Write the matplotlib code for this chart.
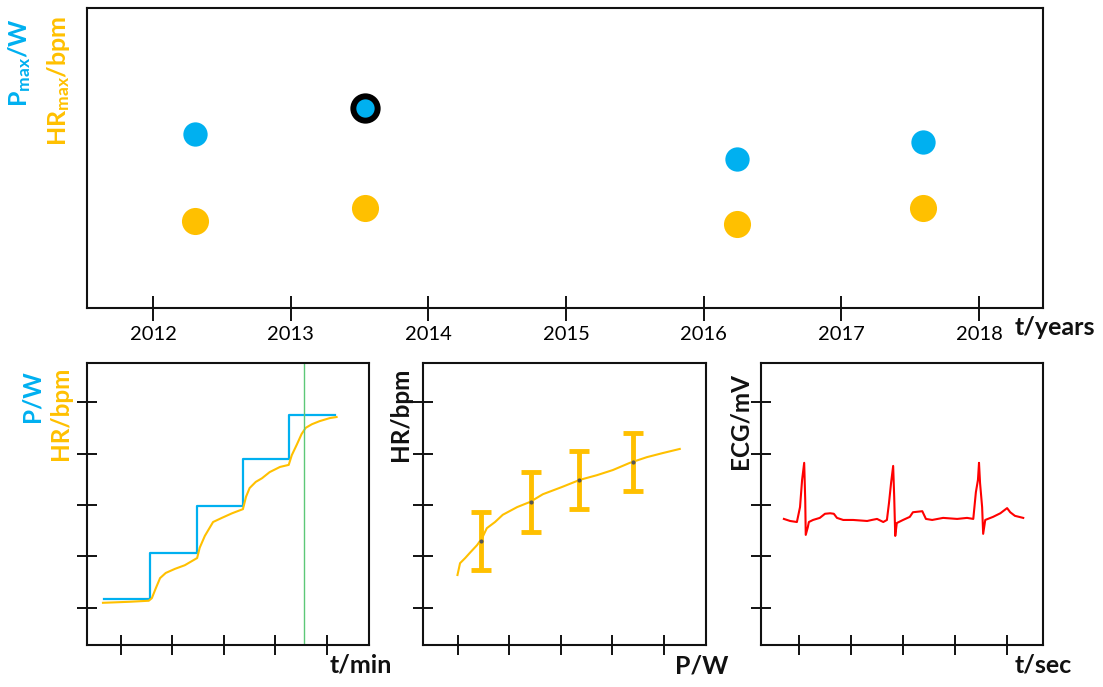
import matplotlib
matplotlib.use("Agg")
import matplotlib.pyplot as plt

plt.rcParams['font.family'] = ['Lato', 'DejaVu Sans']
plt.rcParams['mathtext.fontset'] = 'custom'
plt.rcParams['mathtext.bf'] = 'Lato:bold'
plt.rcParams['mathtext.rm'] = 'Lato'

BLUE = '#00B0F0'
ORANGE = '#FFC000'
RED = '#FF0000'
GREEN = '#5CC878'

# ---- top panel data ----
test_years = [2012.305, 2013.54, 2016.245, 2017.59]
pmax = [58.0, 66.7, 49.7, 55.3]
hrmax = [29.0, 33.3, 28.0, 33.3]
highlight_index = 1
year_ticks = [2012, 2013, 2014, 2015, 2016, 2017, 2018]

# ---- bottom-left: step test ----
step_t = [0.67, 1.56, 2.48, 3.37, 4.26, 5.16]
step_p = [1.17, 2.07, 2.98, 3.89, 4.75, 4.75]
hr_t = [0.65, 1.17, 1.54, 1.60, 1.68, 1.76, 1.87, 2.05, 2.24, 2.48, 2.53, 2.63,
        2.79, 2.96, 3.16, 3.37, 3.43, 3.50, 3.62, 3.74, 3.89, 4.09, 4.26, 4.32,
        4.42, 4.51, 4.59, 4.71, 4.86, 5.06, 5.19]
hr_v = [1.10, 1.12, 1.14, 1.19, 1.39, 1.58, 1.68, 1.76, 1.83, 1.97, 2.17, 2.40,
        2.67, 2.75, 2.84, 2.92, 3.16, 3.33, 3.45, 3.52, 3.64, 3.74, 3.78, 3.97,
        4.18, 4.38, 4.50, 4.57, 4.63, 4.69, 4.71]
marker_t = 4.55

# ---- bottom-middle: HR vs P ----
hp_p = [0.99, 1.04, 1.14, 1.23, 1.37, 1.47, 1.56, 1.72, 1.87, 2.15, 2.40, 2.65,
        3.02, 3.37, 3.70, 4.01, 4.34, 4.67, 4.98, 5.31]
hp_hr = [1.64, 1.87, 1.97, 2.07, 2.22, 2.36, 2.55, 2.67, 2.81, 2.96, 3.06, 3.21,
         3.35, 3.49, 3.58, 3.68, 3.82, 3.93, 4.01, 4.09]
eb_p = [1.45, 2.42, 3.35, 4.40]
eb_hr = [2.30, 3.06, 3.49, 3.83]
eb_err = [0.56, 0.58, 0.56, 0.56]

# ---- bottom-right: ECG ----
ecg_t = [0.71, 0.83, 0.96, 1.02, 1.06, 1.10, 1.12, 1.13, 1.17, 1.19, 1.27, 1.40,
         1.50, 1.60, 1.67, 1.73, 1.85, 2.04, 2.31, 2.40, 2.50, 2.62, 2.69, 2.73,
         2.77, 2.81, 2.83, 2.85, 2.88, 3.00, 3.13, 3.19, 3.37, 3.44, 3.56, 3.77,
         4.04, 4.23, 4.35, 4.40, 4.44, 4.46, 4.48, 4.52, 4.54, 4.58, 4.73, 4.87,
         5.00, 5.06, 5.15, 5.31]
ecg_v = [2.73, 2.69, 2.67, 2.96, 3.49, 3.82, 3.10, 2.42, 2.57, 2.67, 2.71, 2.75,
         2.83, 2.84, 2.83, 2.75, 2.71, 2.71, 2.69, 2.71, 2.73, 2.67, 2.71, 3.04,
         3.43, 3.76, 3.16, 2.40, 2.65, 2.71, 2.77, 2.86, 2.88, 2.73, 2.71, 2.75,
         2.73, 2.75, 2.73, 3.25, 3.49, 3.82, 3.43, 2.96, 2.44, 2.71, 2.77, 2.84,
         2.94, 2.86, 2.79, 2.75]

small_ticks = [1, 2, 3, 4, 5]

W, H = 1103, 687
fig = plt.figure(figsize=(W / 100, H / 100), dpi=100)


def px_axes(x0, x1, y0, y1):
    return fig.add_axes([x0 / W, 1 - y1 / H, (x1 - x0) / W, (y1 - y0) / H])


def style(ax):
    for s in ax.spines.values():
        s.set_linewidth(1.5)
        s.set_color('#111111')
    ax.tick_params(direction='inout', length=15, width=1.4, color='#111111')


def ylab(x, ytop, text, color, size=17.5):
    fig.text(x / W, 1 - ytop / H, text, rotation=90, color=color, fontsize=size,
             fontweight='bold', ha='center', va='top')


def xlab(x, y, text):
    fig.text(x / W, 1 - y / H, text, fontsize=18, fontweight='bold',
             ha='left', va='center', color='#111111')


# top
ax0 = px_axes(87, 1043, 8, 308)
style(ax0)
ax0.set_xlim(2011.52, 2018.465)
ax0.set_ylim(0, 100)
ax0.set_xticks(year_ticks)
ax0.set_xticklabels([str(y) for y in year_ticks], fontsize=14.5)
ax0.tick_params(axis='x', length=18, pad=4)
ax0.set_yticks([])
ax0.plot(test_years, hrmax, 'o', color=ORANGE, markersize=19.5, markeredgewidth=0)
ax0.plot(test_years, pmax, 'o', color=BLUE, markersize=17.5, markeredgewidth=0)
ax0.plot([test_years[highlight_index]], [pmax[highlight_index]], 'o', color=BLUE,
         markersize=17.5, markeredgecolor='black', markeredgewidth=4.3)

ylab(20, 18, r'$\mathbf{P_{max}/W}$', BLUE, 18)
ylab(59, 16, r'$\mathbf{HR_{max}/bpm}$', ORANGE, 18)
xlab(1015, 328, 't/years')

# bottom-left
ax1 = px_axes(87, 369, 363, 645)
style(ax1)
ax1.set_xlim(0.34, 5.82)
ax1.set_ylim(0.28, 5.76)
ax1.set_xticks(small_ticks)
ax1.set_yticks(small_ticks)
ax1.set_xticklabels([])
ax1.set_yticklabels([])
ax1.step(step_t, step_p, where='post', color=BLUE, linewidth=1.6)
ax1.plot(hr_t, hr_v, color=ORANGE, linewidth=1.5)
ax1.axvline(marker_t, color=GREEN, linewidth=1.0)

ylab(32, 370, 'P/W', BLUE)
ylab(61, 367, 'HR/bpm', ORANGE)
xlab(330, 665, 't/min')

# bottom-middle
ax2 = px_axes(423, 706, 363, 645)
style(ax2)
ax2.set_xlim(0.32, 5.82)
ax2.set_ylim(0.28, 5.76)
ax2.set_xticks(small_ticks)
ax2.set_yticks(small_ticks)
ax2.set_xticklabels([])
ax2.set_yticklabels([])
ax2.plot(hp_p, hp_hr, color=ORANGE, linewidth=1.5)
ax2.errorbar(eb_p, eb_hr, yerr=eb_err, fmt='none', ecolor=ORANGE,
             elinewidth=3.5, capsize=7.5, capthick=3.5)
ax2.plot(eb_p, eb_hr, 'o', color='#555555', markersize=2)

ylab(401, 368, 'HR/bpm', '#111111')
xlab(675, 666, 'P/W')

# bottom-right
ax3 = px_axes(761, 1043, 363, 645)
style(ax3)
ax3.set_xlim(0.27, 5.69)
ax3.set_ylim(0.28, 5.76)
ax3.set_xticks(small_ticks)
ax3.set_yticks(small_ticks)
ax3.set_xticklabels([])
ax3.set_yticklabels([])
ax3.plot(ecg_t, ecg_v, color=RED, linewidth=1.5)

ylab(740, 373, 'ECG/mV', '#111111')
xlab(1015, 665, 't/sec')

fig.savefig('out.png', dpi=100)
